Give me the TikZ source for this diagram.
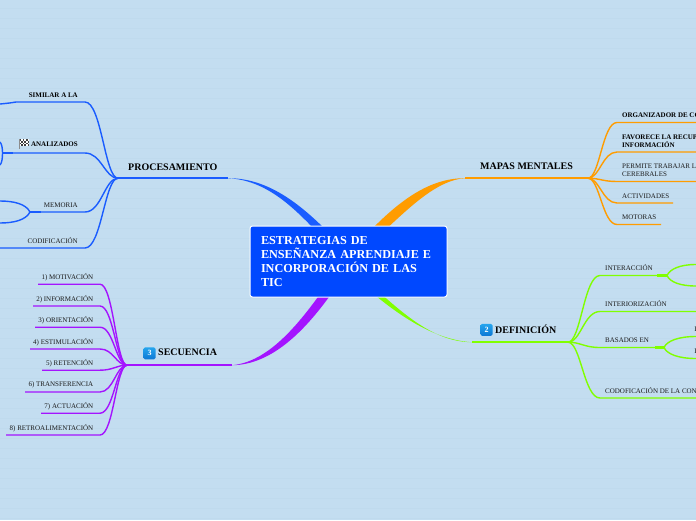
\documentclass[tikz,border=0pt]{standalone}
\usepackage{fontspec}
\setmainfont{Liberation Serif}
\usepackage{tikz}
\usepackage{xcolor}
\usetikzlibrary{arrows.meta,positioning,calc}
\definecolor{paper}{HTML}{C3DDF0}
\definecolor{stripe}{HTML}{BFDAED}
\definecolor{ink}{HTML}{1A1A1A}
\definecolor{rootblue}{HTML}{0048FF}
\definecolor{procline}{HTML}{1A5CFF}
\definecolor{secline}{HTML}{A414FF}
\definecolor{mapline}{HTML}{FF9C00}
\definecolor{defline}{HTML}{80FF00}
\definecolor{badgetop}{HTML}{25A5EE}
\definecolor{badgebottom}{HTML}{0E78D4}
\tikzset{
  rootbox/.style={draw=white, fill=rootblue, rounded corners=2.5pt, line width=1pt,
                  text=white, align=left, inner sep=0pt, text width=175pt,
                  minimum width=197pt, minimum height=71pt, font=\fontsize{12.2}{14}\selectfont\bfseries},
  topic/.style={font=\fontsize{10}{12}\selectfont\bfseries, text=black, inner sep=0pt},
  sublabel/.style={font=\fontsize{7}{8}\selectfont, text=ink, inner sep=0pt, align=left},
  boldlabel/.style={sublabel, font=\fontsize{7}{8}\selectfont\bfseries, text=black},
  badge/.style={top color=badgetop, bottom color=badgebottom, rounded corners=1.5pt,
                minimum size=12pt, inner sep=0pt, text=white, font=\fontsize{8}{8}\selectfont\bfseries},
  branch/.style={line width=1.4pt},
  mainline/.style={line width=1.7pt},
  stub/.style={line width=2.2pt},
  hubcurve/.style={to path={.. controls ($(\tikztostart)!0.4!(\tikztotarget |- \tikztostart)$)
                   and ($(\tikztotarget)!0.5!(\tikztostart |- \tikztotarget)$) .. (\tikztotarget)}}
}
\begin{document}
\begin{tikzpicture}[x=1pt,y=-1pt]
  \useasboundingbox (0,0) rectangle (696,520);
  \fill[paper] (0,0) rectangle (696,520);
  \foreach \y in {8,18,...,518}
    \draw[stripe,line width=1pt] (0,\y) -- (696,\y);

  % centre and the four topics
  \coordinate (procTip) at (228,178.2);
  \coordinate (procHub) at (118,178.2);
  \coordinate (secTip) at (232,365.2);
  \coordinate (secHub) at (127,365.2);
  \coordinate (mapTip) at (465,178.2);
  \coordinate (mapHub) at (588,178.2);
  \coordinate (defTip) at (472,342.2);
  \coordinate (defHub) at (568,342.2);

  \fill[procline] (procTip) .. controls (268,178) and (300,204) .. (328,232) -- (317,232)
    .. controls (293,207) and (266,180) .. (procTip) -- cycle;
  \fill[secline] (secTip) .. controls (272,365) and (306,330) .. (334,290) -- (323,290)
    .. controls (298,325) and (268,362) .. (secTip) -- cycle;
  \fill[mapline] (mapTip) .. controls (430,178) and (400,200) .. (369,232) -- (383,232)
    .. controls (412,205) and (438,180) .. (mapTip) -- cycle;
  \fill[defline] (defTip) .. controls (438,342) and (410,320) .. (378,291) -- (370,291)
    .. controls (402,318) and (436,340) .. (defTip) -- cycle;
  \draw[procline,mainline] (procHub) -- (procTip);
  \draw[secline,mainline] (secHub) -- (secTip);
  \draw[mapline,mainline] (mapHub) -- (mapTip);
  \draw[defline,mainline] (defHub) -- (defTip);

  \node[rootbox] (root) at (348.5,261.5) {ESTRATEGIAS DE\\ENSEÑANZA APRENDIAJE E\\INCORPORACIÓN DE LAS\\TIC};

  \node[topic,anchor=west] (procesamiento) at (128,167) {PROCESAMIENTO};
  \node[topic,anchor=west] (mapas) at (480,166.5) {MAPAS MENTALES};
  \node[topic,anchor=west] (secuencia) at (158,352.5) {SECUENCIA};
  \node[badge] (secBadge) at (149.5,353.3) {3};
  \node[topic,anchor=west] (definicion) at (495,329.5) {DEFINICIÓN};
  \node[badge] (defBadge) at (486.5,329.8) {2};

  % procesamiento
  \node[boldlabel,anchor=east] (similar) at (78,95) {SIMILAR A LA};
  \node[boldlabel,anchor=east] (analizados) at (78,144) {ANALIZADOS};
  \node[sublabel,anchor=east] (memoria) at (78,205) {MEMORIA};
  \node[sublabel,anchor=east] (codificacion) at (78,241) {CODIFICACIÓN};
  \coordinate (similarEnd) at (85,102);
  \coordinate (analizadosEnd) at (85,153);
  \coordinate (memoriaEnd) at (85,212);
  \coordinate (codificacionEnd) at (85,248);
  \coordinate (similarFree) at (0,104);
  \coordinate (analizadosKnot) at (2.5,153);
  \coordinate (memoriaKnot) at (30,212);
  \coordinate (codificacionFree) at (0,248);
  \draw[procline,branch] (procHub) to[hubcurve] (similarEnd) -- (16,102) .. controls (10,103) .. (similarFree);
  \draw[procline,branch] (procHub) to[hubcurve] (analizadosEnd) -- (analizadosKnot);
  \draw[procline,branch] (procHub) to[hubcurve] (memoriaEnd) -- (memoriaKnot);
  \draw[procline,branch] (procHub) to[hubcurve] (codificacionEnd) -- (codificacionFree);
  \draw[procline,stub] (analizadosKnot) -- (13,153);
  \draw[procline,stub] (memoriaKnot) -- (41,212);
  \draw[procline,branch] (0,142) .. controls (2,144) and (2.5,149) .. (analizadosKnot)
    .. controls (2.5,158) and (2,163) .. (0,165);
  \draw[procline,branch] (0,201) .. controls (14,201) and (26,204) .. (memoriaKnot)
    .. controls (26,220) and (14,223) .. (0,223);
  % flag
  \draw[black!45,line width=0.8pt] (19,139) -- (19,149);
  \fill[white] (19.5,139) rectangle (29,146);
  \foreach \i in {0,...,5}
    \foreach \j in {0,...,3}{
      \pgfmathtruncatemacro\flagcell{mod(\i+\j,2)}
      \ifnum\flagcell=0 \fill[black!75] (19.5+1.6*\i,139+1.75*\j) rectangle ++(1.6,1.75);\fi
    }

  % secuencia
  \foreach \n/\txt/\ly/\lx in {1/1) MOTIVACIÓN/284.2/38, 2/2) INFORMACIÓN/306/33,
      3/3) ORIENTACIÓN/327.2/35, 4/4) ESTIMULACIÓN/349/30, 5/5) RETENCIÓN/370.2/42,
      6/6) TRANSFERENCIA/392/25, 7/7) ACTUACIÓN/413.2/41, 8/8) RETROALIMENTACIÓN/435/6}{
    \node[sublabel,anchor=east] (sec\n) at (93.5,\ly-7) {\txt};
    \coordinate (secEnd\n) at (100,\ly);
    \coordinate (secFree\n) at (\lx,\ly);
    \draw[secline,branch] (secHub) to[hubcurve] (secEnd\n) -- (secFree\n);
  }
  \draw[secline,stub] (secHub) -- (135,365.2);

  % mapas mentales
  \node[boldlabel,anchor=west] (organizador) at (622,115) {ORGANIZADOR DE CO};
  \node[boldlabel,anchor=west] (favorece) at (622,141) {FAVORECE LA RECUP\\INFORMACIÓN};
  \node[sublabel,anchor=west] (permite) at (622,170) {PERMITE TRABAJAR L\\CEREBRALES};
  \node[sublabel,anchor=west] (actividades) at (622,196) {ACTIVIDADES};
  \node[sublabel,anchor=west] (motoras) at (622,217) {MOTORAS};
  \coordinate (organizadorEnd) at (617,122.5);
  \coordinate (favoreceEnd) at (617,152);
  \coordinate (permiteEnd) at (617,181.5);
  \coordinate (actividadesEnd) at (617,203);
  \coordinate (motorasEnd) at (617,224.5);
  \draw[mapline,branch] (mapHub) to[hubcurve] (organizadorEnd) -- (696,122.5);
  \draw[mapline,branch] (mapHub) to[hubcurve] (favoreceEnd) -- (696,152);
  \draw[mapline,branch] (mapHub) to[hubcurve] (permiteEnd) -- (696,181.5);
  \draw[mapline,branch] (mapHub) to[hubcurve] (actividadesEnd) -- (673,203);
  \draw[mapline,branch] (mapHub) to[hubcurve] (motorasEnd) -- (661,224.5);
  \draw[mapline,stub] (580,178.2) -- (mapHub);

  % definicion
  \node[sublabel,anchor=west] (interaccion) at (605,268) {INTERACCIÓN};
  \node[sublabel,anchor=west] (interiorizacion) at (605,304) {INTERIORIZACIÓN};
  \node[sublabel,anchor=west] (basados) at (605,340) {BASADOS EN};
  \node[sublabel,anchor=west] (codoficacion) at (605,390.5) {CODOFICACIÓN DE LA CON};
  \node[sublabel,anchor=east] (basadosA) at (696.8,329) {I};
  \node[sublabel,anchor=east] (basadosB) at (696.8,351) {I};
  \coordinate (interaccionEnd) at (600,275.5);
  \coordinate (interiorizacionEnd) at (600,311.5);
  \coordinate (basadosEnd) at (600,347.5);
  \coordinate (codoficacionEnd) at (600,398);
  \coordinate (interaccionKnot) at (667,275.5);
  \coordinate (basadosKnot) at (664,347.5);
  \draw[defline,branch] (defHub) to[hubcurve] (interaccionEnd) -- (interaccionKnot);
  \draw[defline,branch] (defHub) to[hubcurve] (interiorizacionEnd) -- (696,311.5);
  \draw[defline,branch] (defHub) to[hubcurve] (basadosEnd) -- (basadosKnot);
  \draw[defline,branch] (defHub) to[hubcurve] (codoficacionEnd) -- (696,398);
  \draw[defline,stub] (interaccionKnot) -- (657,275.5);
  \draw[defline,stub] (basadosKnot) -- (655,347.5);
  \draw[defline,branch] (696,264.5) .. controls (680,264.5) and (670,269) .. (interaccionKnot)
    .. controls (670,282) and (680,286) .. (696,286);
  \draw[defline,branch] (696,336.5) .. controls (678,336.5) and (667,341) .. (basadosKnot)
    .. controls (667,354) and (678,358.5) .. (696,358.5);
\end{tikzpicture}
\end{document}
